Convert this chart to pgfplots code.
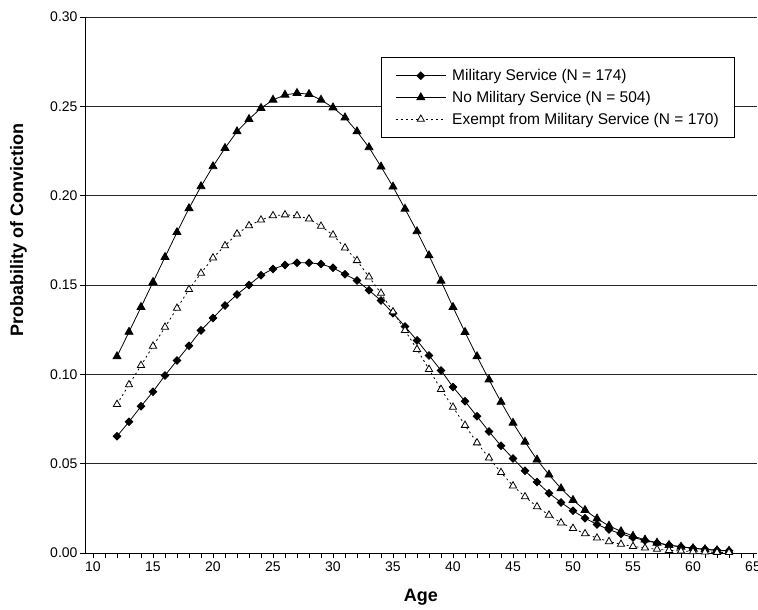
\documentclass[border=0pt]{standalone}
\usepackage{fontspec}
\setmainfont{Liberation Sans}
\usepackage{pgfplots}
\pgfplotsset{compat=1.18}
\usepackage{pgfplotstable}

\pgfplotstableread{
age mil nomil exempt
12 0.0654 0.1100 0.0832
13 0.0734 0.1237 0.0942
14 0.0821 0.1376 0.1050
15 0.0903 0.1516 0.1158
16 0.0994 0.1656 0.1264
17 0.1078 0.1795 0.1370
18 0.1160 0.1929 0.1475
19 0.1246 0.2052 0.1566
20 0.1315 0.2164 0.1652
21 0.1385 0.2266 0.1720
22 0.1447 0.2359 0.1786
23 0.1500 0.2428 0.1832
24 0.1555 0.2490 0.1864
25 0.1590 0.2536 0.1888
26 0.1612 0.2564 0.1893
27 0.1624 0.2574 0.1888
28 0.1624 0.2568 0.1870
29 0.1617 0.2536 0.1829
30 0.1596 0.2493 0.1780
31 0.1560 0.2437 0.1708
32 0.1525 0.2359 0.1637
33 0.1470 0.2270 0.1545
34 0.1413 0.2162 0.1454
35 0.1342 0.2050 0.1350
36 0.1268 0.1926 0.1246
37 0.1190 0.1800 0.1140
38 0.1106 0.1665 0.1028
39 0.1022 0.1523 0.0916
40 0.0929 0.1376 0.0816
41 0.0849 0.1236 0.0715
42 0.0765 0.1100 0.0617
43 0.0680 0.0970 0.0532
44 0.0600 0.0845 0.0451
45 0.0529 0.0728 0.0376
46 0.0460 0.0622 0.0315
47 0.0397 0.0522 0.0259
48 0.0335 0.0438 0.0212
49 0.0283 0.0361 0.0169
50 0.0236 0.0296 0.0138
51 0.0195 0.0240 0.0108
52 0.0160 0.0192 0.0084
53 0.0131 0.0152 0.0064
54 0.0107 0.0121 0.0049
55 0.0087 0.0095 0.0037
56 0.0070 0.0074 0.0028
57 0.0056 0.0057 0.0021
58 0.0044 0.0044 0.0015
59 0.0035 0.0034 0.0011
60 0.0027 0.0026 0.0008
61 0.0021 0.0020 0.0006
62 0.0016 0.0015 0.0004
63 0.0012 0.0011 0.0003
}\datatable

\begin{document}
\begin{tikzpicture}
\begin{axis}[
  scale only axis, width=672pt, height=536pt,
  at={(0,0)}, anchor=south west,
  xmin=9.3333, xmax=65.3333, ymin=0, ymax=0.30,
  axis x line*=bottom, axis y line*=left,
  axis line style={black, line width=0.8pt},
  xtick={10,15,...,65}, minor x tick num=4,
  ytick={0,0.05,0.1,0.15,0.2,0.25,0.3},
  scaled y ticks=false,
  tick align=outside, major tick length=5pt, minor tick length=5pt,
  tick style={black, line width=0.8pt},
  ymajorgrids, major grid style={black!85, line width=0.8pt},
  tick label style={font=\fontsize{14}{16}\selectfont},
  yticklabel style={xshift=1pt},
  /pgf/number format/assume math mode=true,
  yticklabel style={/pgf/number format/.cd, fixed, fixed zerofill, precision=2},
  xlabel={Age},
  xlabel style={font=\bfseries\fontsize{18}{21}\selectfont, at={(axis description cs:0.5,-0.083)}, anchor=center},
  ylabel={Probability of Conviction},
  ylabel style={font=\bfseries\fontsize{18}{21}\selectfont, at={(axis description cs:-0.099,0.6026)}, anchor=center},
  legend image code/.code={\draw[mark repeat=2,mark phase=2,#1] plot coordinates {(0pt,0pt) (25pt,0pt) (50pt,0pt)};},
  legend style={at={(0.4405,0.9254)}, anchor=north west, draw=black, line width=0.8pt,
    font=\fontsize{15.5}{18.5}\selectfont, inner xsep=14pt, inner ysep=10pt,
    row sep=5pt, cells={anchor=west},
    /tikz/every odd column/.append style={column sep=4pt}},
]
\addplot[black, line width=0.8pt, mark=square*, mark size=2.7pt, mark options={rotate=45, solid, fill=black}]
  table[x=age, y=mil] {\datatable};
\addlegendentry{Military Service (N = 174)}
\addplot[black, line width=0.8pt, mark=triangle*, mark size=4.6pt, mark options={solid, fill=black}]
  table[x=age, y=nomil] {\datatable};
\addlegendentry{No Military Service (N = 504)}
\addplot[black, line width=0.8pt, dash pattern=on 2pt off 3pt, mark=triangle*, mark size=4.2pt, mark options={solid, fill=white, line width=0.8pt}]
  table[x=age, y=exempt] {\datatable};
\addlegendentry{Exempt from Military Service (N = 170)}
\end{axis}
\pgfresetboundingbox
\path (-85pt,-57pt) rectangle (673pt,553pt);
\end{tikzpicture}
\end{document}
